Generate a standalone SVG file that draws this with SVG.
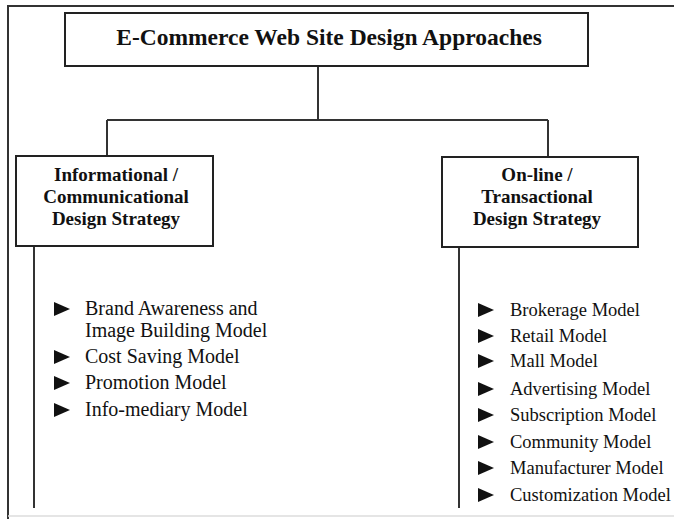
<svg xmlns="http://www.w3.org/2000/svg" width="674" height="519" viewBox="0 0 674 519">
<defs>
<style>
.box{fill:#fff;stroke:#222;stroke-width:2}
.ln{stroke:#333;stroke-width:2;fill:none}
.t{font-family:"Liberation Serif","Times New Roman",serif;fill:#111}
.hb{font-weight:bold;font-size:19px;text-anchor:middle}
.it{font-size:20px}
.it2{font-size:18.5px}
.tri{fill:#111}
</style>
<path id="tri" d="M0,-7 L16,0 L0,7 Z"/>
</defs>
<rect width="674" height="519" fill="#fff"/>
<g id="frame">
<path d="M8,519 V6 H674" class="ln" stroke="#111"/>
<path d="M8,516 H674" stroke="#ddd" stroke-width="1.5"/>
</g>
<g id="connectors">
<path class="ln" d="M318,66 V120"/>
<path class="ln" d="M107,120 H548"/>
<path class="ln" d="M107,120 V156"/>
<path class="ln" d="M548,120 V157"/>
<path class="ln" d="M34,246 V508"/>
<path class="ln" d="M459,247 V508"/>
</g>
<g id="root">
<rect class="box" x="65" y="13" width="523" height="53"/>
<text class="t" x="329" y="45" font-weight="bold" font-size="23.5" text-anchor="middle">E-Commerce Web Site Design Approaches</text>
</g>
<g id="informational">
<rect class="box" x="16" y="156" width="197" height="90"/>
<text class="t hb" x="116" y="181">Informational /</text>
<text class="t hb" x="116" y="203">Communicational</text>
<text class="t hb" x="116" y="225">Design Strategy</text>
</g>
<g id="transactional">
<rect class="box" x="442" y="157" width="196" height="90"/>
<text class="t hb" x="537" y="181">On-line /</text>
<text class="t hb" x="537" y="203">Transactional</text>
<text class="t hb" x="537" y="225">Design Strategy</text>
</g>
<g id="info-list">
<use href="#tri" class="tri" x="54" y="309"/>
<text class="t it" x="85" y="315">Brand Awareness and</text>
<text class="t it" x="85" y="337">Image Building Model</text>
<use href="#tri" class="tri" x="54" y="357"/>
<text class="t it" x="85" y="363">Cost Saving Model</text>
<use href="#tri" class="tri" x="54" y="383"/>
<text class="t it" x="85" y="389">Promotion Model</text>
<use href="#tri" class="tri" x="54" y="410"/>
<text class="t it" x="85" y="416">Info-mediary Model</text>
</g>
<g id="trans-list">
<use href="#tri" class="tri" x="478" y="310"/>
<text class="t it2" x="510" y="316">Brokerage Model</text>
<use href="#tri" class="tri" x="478" y="336"/>
<text class="t it2" x="510" y="342">Retail Model</text>
<use href="#tri" class="tri" x="478" y="361"/>
<text class="t it2" x="510" y="367">Mall Model</text>
<use href="#tri" class="tri" x="478" y="389"/>
<text class="t it2" x="510" y="395">Advertising Model</text>
<use href="#tri" class="tri" x="478" y="415"/>
<text class="t it2" x="510" y="421">Subscription Model</text>
<use href="#tri" class="tri" x="478" y="442"/>
<text class="t it2" x="510" y="448">Community Model</text>
<use href="#tri" class="tri" x="478" y="468"/>
<text class="t it2" x="510" y="474">Manufacturer Model</text>
<use href="#tri" class="tri" x="478" y="495"/>
<text class="t it2" x="510" y="501">Customization Model</text>
</g>
</svg>
